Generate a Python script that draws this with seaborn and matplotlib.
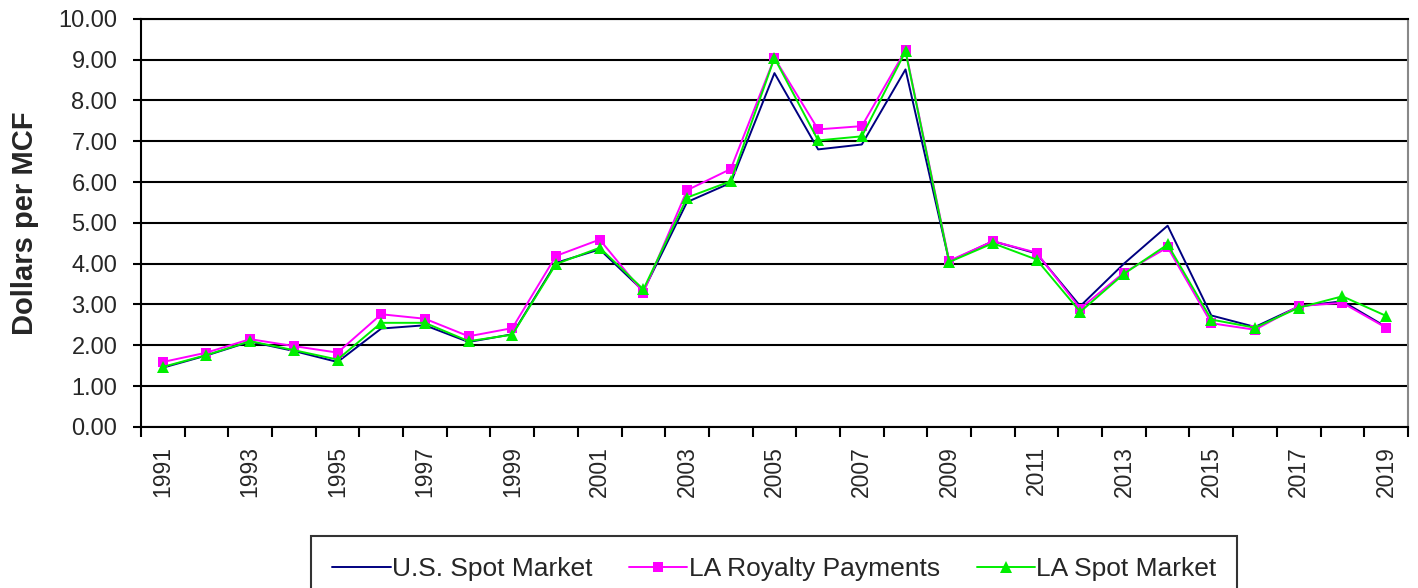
import numpy as np
import pandas as pd
import matplotlib
matplotlib.use("Agg")
import matplotlib.pyplot as plt
import seaborn as sns
from matplotlib.ticker import FormatStrFormatter

# data (dollars per MCF)
years = list(range(1991, 2020))
us_spot = [1.45, 1.75, 2.09, 1.86, 1.59, 2.41, 2.49, 2.08, 2.27, 4.02,
           4.35, 3.33, 5.51, 5.98, 8.67, 6.80, 6.92, 8.76, 4.05, 4.55,
           4.25, 2.96, 4.00, 4.93, 2.73, 2.45, 2.95, 3.08, 2.45]
la_royalty = [1.59, 1.82, 2.15, 1.98, 1.82, 2.76, 2.65, 2.22, 2.42, 4.19,
              4.59, 3.29, 5.80, 6.32, 9.04, 7.29, 7.37, 9.23, 4.07, 4.55,
              4.27, 2.90, 3.78, 4.40, 2.54, 2.38, 2.96, 3.04, 2.43]
la_spot = [1.47, 1.76, 2.10, 1.88, 1.65, 2.55, 2.55, 2.10, 2.26, 3.99,
           4.39, 3.37, 5.62, 6.02, 9.04, 7.02, 7.12, 9.20, 4.04, 4.50,
           4.10, 2.82, 3.75, 4.47, 2.63, 2.43, 2.92, 3.20, 2.72]

df = pd.DataFrame({"year": years, "us": us_spot, "roy": la_royalty, "spot": la_spot})

sns.set_style("white")
plt.rcParams["font.family"] = ["Liberation Sans", "DejaVu Sans"]

fig = plt.figure(figsize=(14.18, 5.88), dpi=100)
ax = fig.add_axes([0.0994, 0.274, 0.8935, 0.694])

sns.lineplot(data=df, x="year", y="us", ax=ax, color="#000080", lw=1.4,
             label="U.S. Spot Market")
sns.lineplot(data=df, x="year", y="roy", ax=ax, color="#ff00ff", lw=1.4,
             marker="s", markersize=7.5, markeredgewidth=0, label="LA Royalty Payments")
sns.lineplot(data=df, x="year", y="spot", ax=ax, color="#00ee00", lw=1.4,
             marker="^", markersize=8.5, markeredgewidth=0, label="LA Spot Market")

ax.set_xlim(1990.5, 2019.5)
ax.set_ylim(0, 10)
ax.set_yticks(np.arange(0, 11, 1))
ax.yaxis.set_major_formatter(FormatStrFormatter("%.2f"))
ax.grid(axis="y", color="black", lw=1.5)
ax.set_axisbelow(True)

# labels on odd years, tick marks between categories
ax.set_xticks(years[::2])
ax.set_xticklabels([str(y) for y in years[::2]], rotation=90, fontsize=16.5)
ax.set_xticks(np.arange(1990.5, 2020, 1), minor=True)
ax.tick_params(axis="x", which="major", length=0, pad=14)
ax.tick_params(axis="x", which="minor", length=7, width=1.5, direction="out", color="black", bottom=True)
ax.tick_params(axis="y", length=6, width=1.5, direction="out", color="black", left=True, labelsize=17, pad=11)

for side in ["left", "bottom", "right", "top"]:
    ax.spines[side].set_color("black")
    ax.spines[side].set_linewidth(1.5)
ax.spines["right"].set_color("#888888")

ax.set_xlabel("")
ax.set_ylabel("Dollars per MCF", fontsize=21, fontweight="bold", labelpad=14)

leg = ax.legend(loc="upper center", bbox_to_anchor=(0.5, -0.268), ncol=3, frameon=True,
                fancybox=False, edgecolor="black", fontsize=19, handlelength=2.2,
                handletextpad=0.05, columnspacing=1.4, borderpad=0.8, borderaxespad=0)
leg.get_frame().set_linewidth(1.5)

fig.savefig("out.png", dpi=100)
